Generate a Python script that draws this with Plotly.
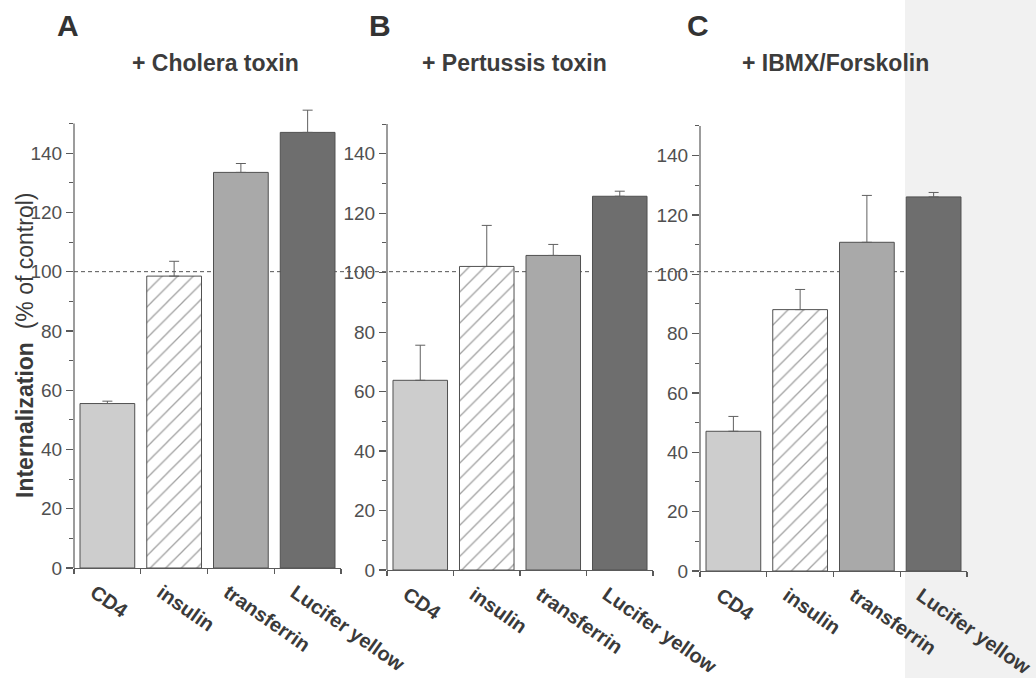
import plotly.graph_objects as go

# ---------------- data ----------------
categories = ["CD4", "insulin", "transferrin", "Lucifer yellow"]

panel_letters = ["A", "B", "C"]
panel_titles = ["+ Cholera toxin", "+ Pertussis toxin", "+ IBMX/Forskolin"]

cholera_values = [55.5, 98.5, 133.5, 147.0]
cholera_errors = [0.8, 5.0, 3.0, 7.5]

pertussis_values = [63.8, 102.1, 105.8, 125.7]
pertussis_errors = [11.8, 13.8, 3.7, 1.7]

ibmx_values = [47.1, 88.1, 110.8, 126.1]
ibmx_errors = [5.0, 6.8, 15.8, 1.5]

control_level = 100
y_ticks = [0, 20, 40, 60, 80, 100, 120, 140]
y_axis_top = 150          # drawn axis line ends here
y_view_top = 158          # view extends a little higher so error bars are not clipped

y_title_bold = "Internalization"
y_title_rest = "(% of control)"

# ---------------- styling ----------------
W, H = 1036, 678
FONT = "Liberation Sans, Arial, Helvetica, sans-serif"
bar_colors = ["#cdcdcd", "#ffffff", "#a9a9a9", "#6e6e6e"]
AX = "#5a5a5a"
TXT = "#3a3a3a"

# panel placement (pixels): x from/to, y pixel of value 0 and of value 150
x_px = [(74, 341), (387, 653), (700, 967)]
y_px = [(568, 123.5), (570, 124), (571, 126)]

def px_x(p):
    return p / W

def px_y(p):
    return 1 - p / H

series = [
    (cholera_values, cholera_errors),
    (pertussis_values, pertussis_errors),
    (ibmx_values, ibmx_errors),
]

fig = go.Figure()
layout_axes = {}
shapes = [
    dict(type="rect", xref="paper", yref="paper", x0=px_x(905), x1=1, y0=0, y1=1,
         fillcolor="#f1f1f1", line=dict(width=0), layer="below"),
]
for i, (vals, errs) in enumerate(series):
    xa = "x" if i == 0 else f"x{i+1}"
    ya = "y" if i == 0 else f"y{i+1}"
    fig.add_trace(go.Bar(
        x=categories, y=vals,
        xaxis=xa, yaxis=ya,
        cliponaxis=False,
        marker=dict(
            color=bar_colors,
            line=dict(color="#505050", width=1),
            pattern=dict(
                shape=["", "/", "", ""],
                fillmode="overlay",
                fgcolor="#7a7a7a",
                size=11, solidity=0.12,
            ),
        ),
        error_y=dict(
            type="data", symmetric=False,
            array=errs, arrayminus=[0] * len(errs),
            color="#606060", thickness=1, width=5,
        ),
        showlegend=False,
        hoverinfo="skip",
    ))
    b, t = y_px[i]
    top_px = b - (b - t) * y_view_top / y_axis_top
    xkey = "xaxis" if i == 0 else f"xaxis{i+1}"
    ykey = "yaxis" if i == 0 else f"yaxis{i+1}"
    layout_axes[xkey] = dict(
        domain=[px_x(x_px[i][0]), px_x(x_px[i][1])],
        anchor=ya,
        type="category",
        range=[-0.5, 3.5],
        automargin=False,
        showline=True, linecolor=AX, linewidth=1.2,
        ticks="outside", ticklen=5, tickcolor=AX, tickwidth=1.2,
        tickson="boundaries",
        tickangle=35,
        tickfont=dict(family=FONT, size=20, color=TXT, weight="bold"),
        ticklabelshift=-13,
        ticklabelstandoff=4,
        showgrid=False, zeroline=False,
        fixedrange=True,
    )
    layout_axes[ykey] = dict(
        domain=[px_y(b), px_y(top_px)],
        anchor=xa,
        range=[0, y_view_top],
        automargin=False,
        tickmode="array", tickvals=y_ticks,
        showline=False,
        ticks="outside", ticklen=7, tickcolor=AX, tickwidth=1.2,
        minor=dict(ticks="outside", ticklen=4, dtick=10, tickcolor=AX, tickwidth=1),
        tickfont=dict(family=FONT, size=19, color="#505050"),
        showgrid=False, zeroline=False,
        fixedrange=True,
    )
    # y axis line from 0 to 150 only
    shapes.append(dict(
        type="line", xref=f"{xa} domain", yref=ya,
        x0=0, x1=0, y0=0, y1=y_axis_top,
        line=dict(color=AX, width=1.2), layer="above",
    ))

# control (100 %) reference line, continuous across panels, behind bars
c_dom = (px_x(x_px[2][0]), px_x(x_px[2][1]))
line_end = c_dom[0] + (c_dom[1] - c_dom[0]) * (3 + 0.5) / 4
shapes.append(dict(
    type="line", xref="paper", yref="y", layer="below",
    x0=px_x(x_px[0][0]), x1=line_end, y0=control_level, y1=control_level,
    line=dict(color="#555555", width=1, dash="4px,3px"),
))

annotations = []
letter_x = [68, 380, 698]
title_x = [215, 514, 835]
for i in range(3):
    annotations.append(dict(
        text=f"<b>{panel_letters[i]}</b>", xref="paper", yref="paper",
        x=px_x(letter_x[i]), y=px_y(26), xanchor="center", yanchor="middle",
        showarrow=False, font=dict(family=FONT, size=30, color="#333333"),
    ))
    annotations.append(dict(
        text=f"<b>{panel_titles[i]}</b>", xref="paper", yref="paper",
        x=px_x(title_x[i]), y=px_y(63), xanchor="center", yanchor="middle",
        showarrow=False, font=dict(family=FONT, size=23, color="#3c3c3c"),
    ))

annotations.append(dict(
    text=f"<b>{y_title_bold}</b>  {y_title_rest}", xref="paper", yref="paper",
    x=px_x(25), y=px_y(346), xanchor="center", yanchor="middle",
    textangle=-90, showarrow=False,
    font=dict(family=FONT, size=23, color="#3a3a3a"),
))

fig.update_layout(
    template="none",
    width=W, height=H,
    margin=dict(l=0, r=0, t=0, b=0, autoexpand=False),
    paper_bgcolor="#ffffff",
    plot_bgcolor="rgba(0,0,0,0)",
    bargap=0.18,
    shapes=shapes,
    annotations=annotations,
    **layout_axes,
)

fig.write_html(
    "out.html",
    config={"displayModeBar": False, "staticPlot": True},
    post_script="document.body.style.margin='0px';document.body.style.overflow='hidden';",
)
